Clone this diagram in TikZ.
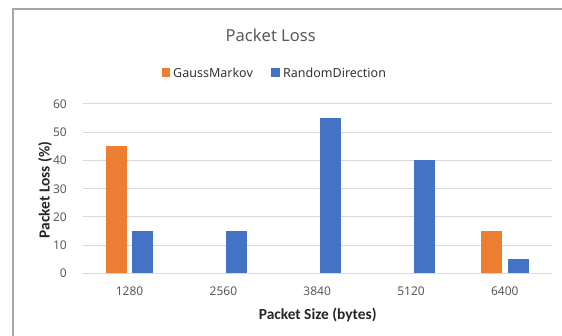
\documentclass[tikz,border=0pt]{standalone}
\usepackage{fontspec}
\setmainfont{Noto Sans}
\newfontfamily\titlefont{Carlito}
\definecolor{gmorange}{HTML}{ED7D31}
\definecolor{rdblue}{HTML}{4472C4}
\definecolor{gridgray}{HTML}{D9D9D9}
\definecolor{ticktext}{HTML}{595959}
\definecolor{framegray}{HTML}{A6A6A6}
\begin{document}
\begin{tikzpicture}[x=1pt,y=1pt,
  bar/.style={inner sep=0pt,minimum width=21pt,anchor=south},
  gmbar/.style={bar,fill=gmorange},
  rdbar/.style={bar,fill=rdblue},
  grid line/.style={draw=gridgray,line width=1pt},
  ytick/.style={anchor=east,text=ticktext,font=\fontsize{12}{14}\selectfont,inner sep=0pt},
  xtick/.style={anchor=center,text=ticktext,font=\fontsize{12}{14}\selectfont,inner sep=0pt},
  axistitle/.style={font=\titlefont\bfseries\fontsize{15.4}{17}\selectfont,text=black!85,inner sep=0pt},
  legsq/.style={inner sep=0pt,minimum size=8.5pt},
  legtext/.style={anchor=west,text=black!80,font=\fontsize{12.5}{15}\selectfont,inner sep=0pt}
]
\useasboundingbox (0,0) rectangle (562,336);
% frame (only top and left visible)
\coordinate (fbl) at (13,0);
\coordinate (ftl) at (13,327);
\coordinate (ftr) at (562,327);
\draw[framegray,line width=1.2pt] (fbl) -- (ftl) -- (ftr);
% title
\node[text=ticktext,font=\fontsize{16.5}{20}\selectfont,inner sep=0pt] (title) at (270.7,301) {Packet Loss};
% legend
\node[legsq,fill=gmorange] (lgm) at (166,263.5) {};
\node[legtext] (lgmt) at (173,263.5) {GaussMarkov};
\node[legsq,fill=rdblue] (lrd) at (275.5,263.5) {};
\node[legtext] (lrdt) at (283,263.5) {RandomDirection};
% grid lines and y ticks
\foreach \v/\n in {0/a,10/b,20/c,30/d,40/e,50/f,60/g}{
  \coordinate (gl\n) at (82.7,{62.5+2.825*\v});
  \coordinate (gr\n) at (551.7,{62.5+2.825*\v});
  \draw[grid line] (gl\n) -- (gr\n);
  \node[ytick] (yt\n) at (67,{62.5+2.825*\v}) {\v};
}
% bars
\node[gmbar,minimum height={2.825*45pt}] (b1g) at ({129.6-13.25},62.5) {};
\node[rdbar,minimum height={2.825*15pt}] (b1r) at ({129.6+13.25},62.5) {};
\node[rdbar,minimum height={2.825*15pt}] (b2r) at ({223.4+13.25},62.5) {};
\node[rdbar,minimum height={2.825*55pt}] (b3r) at ({317.2+13.25},62.5) {};
\node[rdbar,minimum height={2.825*40pt}] (b4r) at ({411.0+13.25},62.5) {};
\node[gmbar,minimum height={2.825*15pt}] (b5g) at ({504.8-13.25},62.5) {};
\node[rdbar,minimum height={2.825*5pt}] (b5r) at ({504.8+13.25},62.5) {};
% x ticks
\node[xtick] (x1) at (129.6,44.3) {1280};
\node[xtick] (x2) at (223.4,44.3) {2560};
\node[xtick] (x3) at (317.2,44.3) {3840};
\node[xtick] (x4) at (411.0,44.3) {5120};
\node[xtick] (x5) at (504.8,44.3) {6400};
% axis titles
\node[axistitle] (xtitle) at (317.7,21) {Packet Size (bytes)};
\node[axistitle,rotate=90] (ytitle) at (45,146) {Packet Loss (\%)};
\end{tikzpicture}
\end{document}
